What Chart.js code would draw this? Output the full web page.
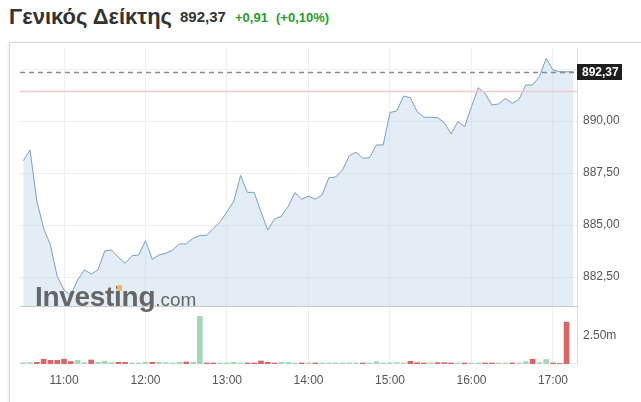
<!DOCTYPE html>
<html><head><meta charset="utf-8">
<script src="https://cdn.jsdelivr.net/npm/chart.js@4"></script>
<style>
html,body{margin:0;padding:0;background:#fff;width:641px;height:402px;overflow:hidden;font-family:"Liberation Sans",Arial,sans-serif}
#frame{position:absolute;left:9px;top:42px;width:700px;height:400px;border-left:1px solid #d6d6d6;border-top:1px solid #d6d6d6;box-shadow:0 1px 3px rgba(0,0,0,0.12)}
#wrap{position:absolute;left:0;top:0;width:641px;height:402px}
.t{position:absolute;white-space:nowrap;line-height:1}
#logo{left:35px;top:283px;font-size:28px;font-weight:bold;color:#666;letter-spacing:-0.3px}
#logo span{font-size:19px;font-weight:normal;letter-spacing:0}
#dot{position:absolute;left:117px;top:285px;width:5px;height:6px;background:#f2b964}
</style></head><body>
<div id="frame"></div>
<div class="t" style="left:9px;top:6px;font-size:22px;font-weight:bold;color:#333">Γενικός Δείκτης</div>
<div class="t" style="left:180px;top:9px;font-size:15px;font-weight:bold;color:#333">892,37</div>
<div class="t" style="left:235px;top:11px;font-size:13px;font-weight:bold;color:#2a9d2a">+0,91</div>
<div class="t" style="left:276px;top:11px;font-size:13px;font-weight:bold;color:#2a9d2a">(+0,10%)</div>
<div id="wrap"><canvas id="c" width="641" height="402"></canvas></div>
<div class="t" id="logo">Investing<span>.com</span></div>
<div id="dot"></div>
<script>
const times = ['10:30','10:35','10:40','10:45','10:50','10:55','11:00','11:05','11:10','11:15',
'11:20','11:25','11:30','11:35','11:40','11:45','11:50','11:55','12:00','12:05',
'12:10','12:15','12:20','12:25','12:30','12:35','12:40','12:45','12:50','12:55',
'13:00','13:05','13:10','13:15','13:20','13:25','13:30','13:35','13:40','13:45',
'13:50','13:55','14:00','14:05','14:10','14:15','14:20','14:25','14:30','14:35',
'14:40','14:45','14:50','14:55','15:00','15:05','15:10','15:15','15:20','15:25',
'15:30','15:35','15:40','15:45','15:50','15:55','16:00','16:05','16:10','16:15',
'16:20','16:25','16:30','16:35','16:40','16:45','16:50','16:55','17:00','17:05',
'17:10','17:15'];
const price = [888.09, 888.61, 886.15, 884.84, 884.04, 882.53, 881.88, 881.63, 882.36, 882.84,
 882.64, 882.84, 883.75, 883.80, 883.45, 883.16, 883.52, 883.56, 884.25, 883.35,
 883.56, 883.64, 883.80, 884.09, 884.09, 884.36, 884.50, 884.50, 884.84, 885.16,
 885.63, 886.15, 887.38, 886.57, 886.57, 885.64, 884.76, 885.29, 885.42, 885.89,
 886.56, 886.24, 886.39, 886.24, 886.44, 887.27, 887.31, 887.64, 888.33, 888.50,
 888.21, 888.24, 888.85, 888.85, 890.41, 890.48, 891.20, 891.12, 890.45, 890.18,
 890.18, 890.16, 889.92, 889.38, 889.97, 889.73, 890.69, 891.60, 891.33, 890.77,
 890.82, 891.09, 890.85, 891.04, 891.73, 891.73, 892.13, 893.01, 892.45, 892.37,
 892.37, 892.37];
const volume = [0.12,0.12,0.15,0.43,0.33,0.33,0.43,0.22,0.33,0.12,
 0.36,0.15,0.25,0.12,0.15,0.15,0.09,0.09,0.15,0.15,
 0.15,0.12,0.09,0.15,0.18,0.15,4.24,0.09,0.09,0.09,
 0.09,0.15,0.09,0.09,0.09,0.27,0.15,0.09,0.15,0.15,
 0.09,0.09,0.09,0.09,0.09,0.09,0.09,0.09,0.09,0.09,
 0.09,0.09,0.21,0.09,0.09,0.12,0.09,0.24,0.12,0.09,
 0.09,0.12,0.12,0.09,0.10,0.09,0.09,0.10,0.09,0.09,
 0.09,0.09,0.09,0.09,0.21,0.43,0.12,0.40,0.09,0.05,
 3.74,0];
const dir = ['u','u','d','d','d','d','d','d','u','u',
 'd','u','u','u','d','d','u','u','u','d',
 'u','u','u','u','d','u','u','d','d','u',
 'u','u','u','d','d','d','d','d','u','u',
 'u','d','u','d','u','u','u','u','u','u',
 'd','u','u','u','u','u','u','d','d','d',
 'u','d','d','d','u','d','u','u','d','d',
 'u','u','d','u','u','d','u','u','d','d',
 'd','u'];
const prevClose = 891.46;
const lastPrice = 892.37;
const priceTicks = [882.5, 885, 887.5, 890, 892.5];
const hourTicks = ['11:00','12:00','13:00','14:00','15:00','16:00','17:00'];
const volTicks = [2.5];

const toMin = s => { const p = s.split(':').map(Number); return p[0]*60 + p[1]; };
const fmt = v => v.toFixed(2).replace('.', ',');

Chart.defaults.font.family = '"Liberation Sans", Arial, sans-serif';

const refLines = {
  id: 'refLines',
  afterDatasetsDraw(chart) {
    const ctx = chart.ctx, y = chart.scales.y, a = chart.chartArea;
    ctx.save();
    const py = Math.round(y.getPixelForValue(prevClose)) + 0.5;
    ctx.strokeStyle = '#f2caca'; ctx.lineWidth = 1.6;
    ctx.beginPath(); ctx.moveTo(a.left, py); ctx.lineTo(a.right, py); ctx.stroke();
    const by = Math.round(y.bottom) + 0.5;
    ctx.strokeStyle = '#c9c9c9'; ctx.lineWidth = 1;
    ctx.beginPath(); ctx.moveTo(a.left, by); ctx.lineTo(a.right, by); ctx.stroke();
    const ly = Math.round(y.getPixelForValue(lastPrice)) + 0.5;
    ctx.setLineDash([5, 4]); ctx.strokeStyle = '#8c8c8c'; ctx.lineWidth = 1.5;
    ctx.beginPath(); ctx.moveTo(a.left, ly); ctx.lineTo(a.right, ly); ctx.stroke();
    ctx.restore();
  },
  afterDraw(chart) {
    const ctx = chart.ctx, y = chart.scales.y, a = chart.chartArea;
    const ly = y.getPixelForValue(lastPrice);
    ctx.save();
    ctx.fillStyle = '#1e1e1e';
    ctx.fillRect(a.right, Math.round(ly) - 8, 45, 16);
    ctx.fillStyle = '#fff';
    ctx.font = 'bold 12px "Liberation Sans", Arial, sans-serif';
    ctx.textBaseline = 'middle';
    ctx.fillText(fmt(lastPrice), a.right + 5, Math.round(ly) + 0.5);
    ctx.restore();
  }
};

new Chart(document.getElementById('c'), {
  type: 'line',
  data: {
    datasets: [
      {
        type: 'line',
        data: times.map((t, i) => ({x: toMin(t), y: price[i]})),
        yAxisID: 'y',
        borderColor: '#7b9dc0',
        borderWidth: 1,
        pointRadius: 0,
        tension: 0,
        fill: 'start',
        backgroundColor: 'rgba(176,204,230,0.36)'
      },
      {
        type: 'bar',
        data: times.map((t, i) => ({x: toMin(t), y: volume[i]})),
        yAxisID: 'yv',
        backgroundColor: dir.map(d => d === 'u' ? '#a6d5b8' : '#d96767'),
        barThickness: 5
      }
    ]
  },
  options: {
    responsive: false,
    animation: false,
    devicePixelRatio: 1,
    layout: {padding: {left: 20, top: 48, right: 0, bottom: 0}},
    plugins: {legend: {display: false}, tooltip: {enabled: false}},
    scales: {
      x: {
        type: 'linear', min: 627.6, max: 1037.7, offset: false,
        grid: {color: '#efefef', drawTicks: false, offset: false},
        border: {display: false},
        afterBuildTicks: s => { s.ticks = hourTicks.map(t => ({value: toMin(t)})); },
        ticks: {callback: (v, i) => hourTicks[i], padding: 9, color: '#555', font: {size: 12}, maxRotation: 0, autoSkip: false},
        afterFit: s => { s.height = 38; }
      },
      y: {
        position: 'right', stack: 's', stackWeight: 258,
        min: 881.106, max: 893.51,
        grid: {color: '#efefef', drawTicks: false},
        border: {display: true, color: '#dcdcdc'},
        afterBuildTicks: s => { s.ticks = priceTicks.map(v => ({value: v})); },
        ticks: {callback: v => v === 892.5 ? '' : fmt(v), padding: 6, color: '#555', font: {size: 12}},
        afterFit: s => { s.width = 64; }
      },
      yv: {
        position: 'right', stack: 's', stackWeight: 58,
        min: 0, max: 5.17,
        grid: {drawOnChartArea: false, drawTicks: false},
        border: {display: true, color: '#dcdcdc'},
        afterBuildTicks: s => { s.ticks = volTicks.map(v => ({value: v})); },
        ticks: {callback: v => v.toFixed(2) + 'm', padding: 6, color: '#555', font: {size: 12}},
        afterFit: s => { s.width = 64; }
      }
    }
  },
  plugins: [refLines]
});
</script>
</body></html>
